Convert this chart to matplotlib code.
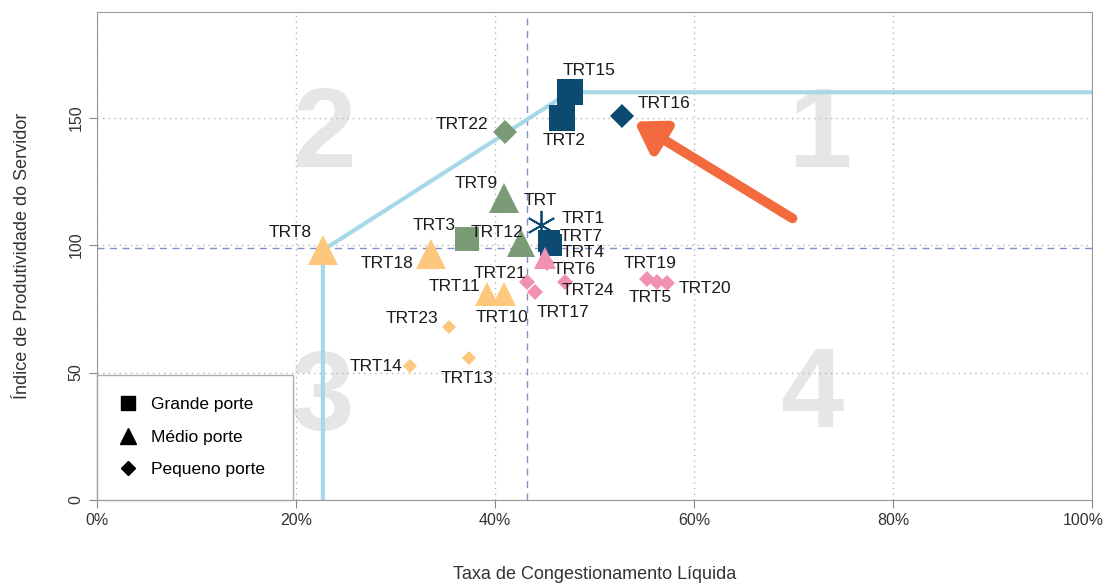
import matplotlib
matplotlib.use("Agg")
import matplotlib.pyplot as plt
from matplotlib.lines import Line2D
from matplotlib.ticker import PercentFormatter
from matplotlib.transforms import ScaledTranslation

plt.rcParams['font.family'] = ['Liberation Sans', 'DejaVu Sans']

# dados dos tribunais
names = ["TRT15", "TRT2", "TRT16", "TRT22", "TRT9", "TRT", "TRT1", "TRT7", "TRT3", "TRT12",
         "TRT4", "TRT6", "TRT8", "TRT18", "TRT21", "TRT17", "TRT11", "TRT10", "TRT24",
         "TRT19", "TRT5", "TRT20", "TRT23", "TRT13", "TRT14"]
taxa = [0.475, 0.467, 0.528, 0.410, 0.409, 0.446, 0.454, 0.456, 0.372, 0.426,
        0.450, 0.452, 0.227, 0.336, 0.432, 0.440, 0.392, 0.409, 0.470,
        0.553, 0.563, 0.573, 0.354, 0.374, 0.315]
ips = [160, 150, 150.5, 144.3, 118.5, 107.8, 101.5, 100, 102.5, 101,
       95, 93, 98, 96.5, 85.5, 81.5, 81, 81, 85.5,
       86.7, 85.5, 85, 67.8, 55.7, 52.5]
porte = ["G", "G", "P", "P", "M", "T", "G", "G", "G", "M",
         "M", "P", "M", "M", "P", "P", "M", "M", "P",
         "P", "P", "P", "P", "P", "P"]
grupo = ["navy", "navy", "navy", "green", "green", "navy", "navy", "navy", "green", "green",
         "pink", "pink", "peach", "peach", "pink", "pink", "peach", "peach", "pink",
         "pink", "pink", "pink", "peach", "peach", "peach"]

fronteira_x = [0.227, 0.227, 0.475, 1.0]
fronteira_y = [0, 98, 160, 160]
media_taxa = 0.432
media_ips = 99

colors = {"navy": "#0d4a72", "green": "#7b9b76", "peach": "#fdc87d", "pink": "#f290b4"}
markers = {"G": "s", "M": "^", "P": "D", "T": (6, 2, 0)}
msize = {"TRT15": 19, "TRT2": 19, "TRT1": 16, "TRT7": 16, "TRT3": 17,
         "TRT9": 22, "TRT8": 22, "TRT18": 22, "TRT12": 20, "TRT4": 16,
         "TRT10": 17, "TRT11": 17, "TRT": 21, "TRT22": 12, "TRT16": 12,
         "TRT6": 8, "TRT21": 8.5, "TRT17": 8.5, "TRT24": 8, "TRT19": 8.5, "TRT5": 8.5,
         "TRT20": 8.5, "TRT23": 7.5, "TRT13": 7.5, "TRT14": 7.5}
# deslocamento dos rotulos (pixels) e alinhamento
offs = {"TRT15": (19, 22, "center"), "TRT2": (2, -23, "center"), "TRT16": (15, 13, "left"),
        "TRT22": (-17, 8, "right"), "TRT9": (-6, 15, "right"), "TRT": (0, 25, "center"),
        "TRT1": (13, 23, "left"), "TRT7": (9, 9, "left"), "TRT3": (-12, 13, "right"),
        "TRT12": (2, 10, "right"), "TRT4": (17, 5, "left"), "TRT6": (6, -6, "left"),
        "TRT8": (-11, 18, "right"), "TRT18": (-18, -9, "right"), "TRT21": (-27, 9, "center"),
        "TRT11": (-7, 7, "right"), "TRT10": (-2, -24, "center"), "TRT17": (28, -20, "center"),
        "TRT24": (-3, -8, "left"), "TRT19": (3, 16, "center"), "TRT5": (-7, -15, "center"),
        "TRT20": (11, -5, "left"), "TRT23": (-11, 9, "right"), "TRT13": (-2, -20, "center"),
        "TRT14": (-8, 0, "right")}

fig = plt.figure(figsize=(11.1, 5.84), dpi=100)
ax = fig.add_axes([0.0874, 0.1438, 0.8964, 0.8357])
ax.set_xlim(0, 1)
ax.set_ylim(0, 191.5)

# numeros dos quadrantes
for txt, qx, qy in [("1", 0.727, 142), ("2", 0.229, 142), ("3", 0.226, 39), ("4", 0.719, 40)]:
    ax.text(qx, qy, txt, fontsize=82, fontweight="bold", color="#e6e6e6",
            ha="center", va="center", zorder=0)

ax.grid(True, linestyle=(0, (1, 3)), color="#b5b5b5", linewidth=1)
ax.set_axisbelow(True)
ax.axhline(media_ips, color="#8090cc", linestyle=(0, (5, 4)), linewidth=1, zorder=1)
ax.axvline(media_taxa, color="#8090cc", linestyle=(0, (5, 4)), linewidth=1, zorder=1)
ax.plot(fronteira_x, fronteira_y, color="#a6d8e7", linewidth=3, zorder=2)

for n, xv, yv, p, g in zip(names, taxa, ips, porte, grupo):
    if p == "T":
        ax.plot(xv, yv, marker=markers[p], markersize=msize[n], color=colors[g],
                markeredgewidth=1.3, linestyle="none", zorder=4)
    else:
        ax.plot(xv, yv, marker=markers[p], markersize=msize[n], color=colors[g],
                markeredgewidth=0, linestyle="none", zorder=3)
    dx, dy, ha = offs[n]
    ax.annotate(n, (xv, yv), xytext=(dx, dy), textcoords="offset pixels",
                ha=ha, va="center", fontsize=12.5, color="#1a1a1a", zorder=5)

# seta
ax.annotate("", xy=(0.540, 148.5), xytext=(0.699, 110.5),
            arrowprops=dict(arrowstyle="-|>,head_length=1.7,head_width=1.1",
                            color="#f26a3d", lw=7, shrinkA=0, shrinkB=0), zorder=6)

ax.xaxis.set_major_formatter(PercentFormatter(1.0, decimals=0))
ax.set_xticks([0, 0.2, 0.4, 0.6, 0.8, 1.0])
ax.set_yticks([0, 50, 100, 150])
for lbl in ax.get_yticklabels():
    lbl.set_rotation(90)
    lbl.set_va("center")
ax.tick_params(direction="out", length=6, color="#888888", labelsize=11.5, labelcolor="#333333")
for s in ax.spines.values():
    s.set_color("#999999")
# "100%" encostado na borda: puxa um pouco para a esquerda
last = ax.get_xticklabels()[-1]
last.set_transform(last.get_transform() + ScaledTranslation(-6 / 72, 0, fig.dpi_scale_trans))

ax.set_xlabel("Taxa de Congestionamento Líquida", fontsize=13, color="#333333", labelpad=27)
ax.set_ylabel("Índice de Produtividade do Servidor", fontsize=13, color="#333333", labelpad=27)

handles = [Line2D([], [], marker="s", color="black", linestyle="none", markersize=10),
           Line2D([], [], marker="^", color="black", linestyle="none", markersize=11),
           Line2D([], [], marker="D", color="black", linestyle="none", markersize=7)]
leg = ax.legend(handles, ["Grande porte", "Médio porte", "Pequeno porte"],
                loc="lower left", bbox_to_anchor=(0, 0, 0.197, 0.26), mode="expand",
                frameon=True, fancybox=False, edgecolor="#999999", fontsize=12.5,
                handlelength=1.0, handletextpad=0.8, labelspacing=1.0, borderpad=1.3,
                borderaxespad=0)
leg.get_frame().set_linewidth(1)

fig.savefig("out.png", dpi=100)
